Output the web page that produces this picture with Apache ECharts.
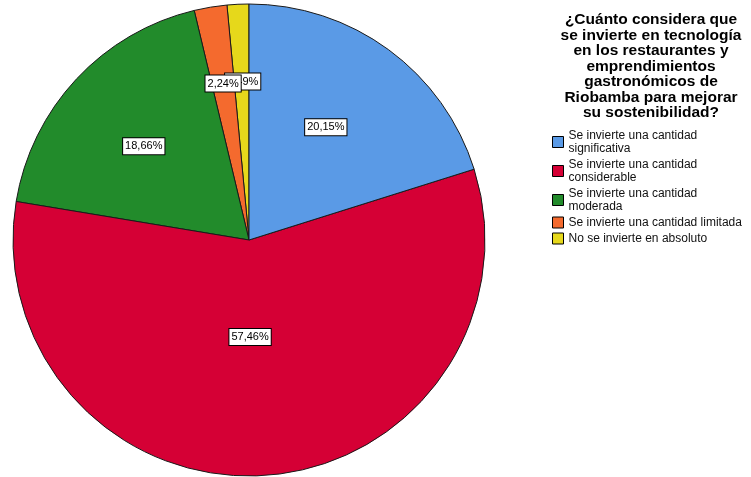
<!DOCTYPE html>
<html>
<head>
<meta charset="utf-8">
<script src="https://cdn.jsdelivr.net/npm/echarts@6/dist/echarts.min.js"></script>
<style>
  html, body { margin: 0; padding: 0; background: #fff; }
  #chart { width: 751px; height: 477px; }
</style>
</head>
<body>
<div id="chart"></div>
<script>
// Survey answers (percent of respondents)
const categories = [
  'Se invierte una cantidad\nsignificativa',
  'Se invierte una cantidad\nconsiderable',
  'Se invierte una cantidad\nmoderada',
  'Se invierte una cantidad limitada',
  'No se invierte en absoluto'
];
const percents = [20.15, 57.46, 18.66, 2.24, 1.49];
const sliceColors = ['#5A9AE6', '#D50035', '#228B2B', '#F46A2E', '#E6D81B'];

const titleText = '¿Cuánto considera que\nse invierte en tecnología\nen los restaurantes y\nemprendimientos\ngastronómicos de\nRiobamba para mejorar\nsu sostenibilidad?';

// Label placement: distance from the centre (fraction of radius) and a small angular nudge (deg)
const labelRadiusFrac = [0.578, 0.411, 0.597, 0.672, 0.672];
const labelAngleNudge = [-2, 3.4, -1.3, 0, 0.4];

const CX = 249, CY = 240, R = 236;

// Mid angle of each slice, clockwise from 12 o'clock
const total = percents.reduce((a, b) => a + b, 0);
const midAngles = [];
let acc = 0;
percents.forEach(v => { midAngles.push((acc + v / 2) / total * 360); acc += v; });

// Slices are listed in reverse and drawn counter-clockwise, so the order around
// the pie stays the same while the small slices' labels stack correctly.
const order = percents.map((_, i) => i).reverse();
const seriesData = order.map(i => ({
  name: categories[i],
  value: percents[i],
  itemStyle: { color: sliceColors[i] }
}));

const fmt = v => v.toFixed(2).replace('.', ',') + '%';

const chart = echarts.init(document.getElementById('chart'), null, { renderer: 'canvas' });
chart.setOption({
  animation: false,
  backgroundColor: '#fff',
  title: {
    text: titleText,
    left: 651,
    top: 12,
    textAlign: 'center',
    padding: 0,
    textStyle: {
      fontFamily: 'Liberation Sans, Arial, sans-serif',
      fontSize: 15.5,
      fontWeight: 'bold',
      lineHeight: 15.5,
      color: '#000'
    }
  },
  legend: {
    orient: 'vertical',
    left: 552,
    top: 129,
    padding: 0,
    itemGap: 3,
    itemWidth: 11,
    itemHeight: 11,
    icon: 'rect',
    selectedMode: false,
    data: categories,
    itemStyle: { borderColor: '#000', borderWidth: 1 },
    textStyle: {
      fontFamily: 'Liberation Sans, Arial, sans-serif',
      fontSize: 12,
      lineHeight: 13,
      color: '#111'
    }
  },
  series: [{
    type: 'pie',
    center: [CX, CY],
    radius: [0, R],
    startAngle: 90,
    clockwise: false,
    avoidLabelOverlap: false,
    emphasis: { disabled: true },
    itemStyle: { borderColor: '#1a1a1a', borderWidth: 1 },
    labelLine: { show: false },
    label: {
      show: true,
      position: 'inside',
      formatter: p => fmt(p.value),
      fontFamily: 'Liberation Sans, Arial, sans-serif',
      fontSize: 11,
      lineHeight: 13,
      color: '#000',
      backgroundColor: '#fff',
      borderColor: '#000',
      borderWidth: 1,
      padding: [2, 2, 1, 2]
    },
    labelLayout: params => {
      const i = order[params.dataIndex];
      const a = (midAngles[i] + labelAngleNudge[i]) * Math.PI / 180;
      const r = labelRadiusFrac[i] * R;
      return { x: CX + r * Math.sin(a), y: CY - r * Math.cos(a) };
    },
    data: seriesData
  }]
});
</script>
</body>
</html>
